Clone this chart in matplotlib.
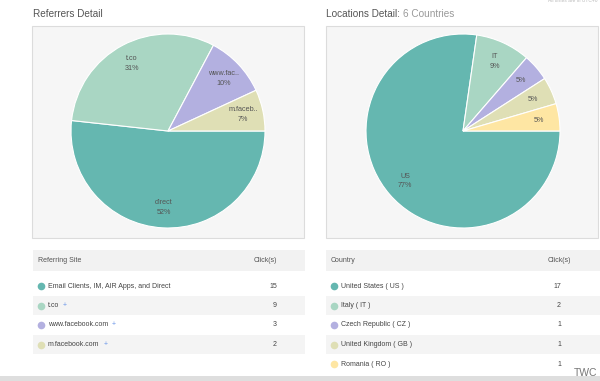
import matplotlib
matplotlib.use("Agg")
import matplotlib.pyplot as plt
import numpy as np
from matplotlib.patches import Rectangle

plt.rcParams['font.family'] = ['Liberation Sans', 'DejaVu Sans']

# referrers
ref_sites = ['Email Clients, IM, AIR Apps, and Direct', 't.co', 'www.facebook.com', 'm.facebook.com']
ref_labels = ['direct', 't.co', 'www.fac..', 'm.faceb..']
ref_clicks = [15, 9, 3, 2]
ref_plus = [False, True, True, True]

# locations (6 countries in total, 5 rows visible)
n_countries = 6
countries = ['United States ( US )', 'Italy ( IT )', 'Czech Republic ( CZ )',
             'United Kingdom ( GB )', 'Romania ( RO )']
country_labels = ['US', 'IT', '', '', '']
country_clicks = [17, 2, 1, 1, 1]

colors = ['#65b7b0', '#a9d6c3', '#b3b0e0', '#dfdfb5', '#fee6a3']

W, H = 600, 381
fig = plt.figure(figsize=(6, 3.81), dpi=100)
bg = fig.add_axes([0, 0, 1, 1])
bg.set_xlim(0, W)
bg.set_ylim(H, 0)
bg.axis('off')

# titles
bg.text(33, 14, 'Referrers Detail', fontsize=7.2, color='#555555', va='center')
t = bg.text(326, 14, 'Locations Detail: ', fontsize=7.2, color='#555555', va='center')
bg.annotate('%d Countries' % n_countries, xycoords=t, xy=(1, 0.5), va='center',
            fontsize=7.2, color='#999999')
bg.text(598, 1, 'All times are in UTC+0', fontsize=3.5, color='#bbbbbb',
        ha='right', va='center')

# chart panels
for x0 in (32, 326):
    bg.add_patch(Rectangle((x0, 26), 272, 212, facecolor='#f6f6f6',
                           edgecolor='#dcdcdc', lw=0.8))


def draw_pie(cx, cy, r, values, labels):
    ax = fig.add_axes([(cx - r) / W, 1 - (cy + r) / H, 2 * r / W, 2 * r / H])
    wedges, _ = ax.pie(values, colors=colors[:len(values)], startangle=0,
                       counterclock=False,
                       wedgeprops=dict(edgecolor='white', linewidth=0.8))
    ax.set_xlim(-1, 1)
    ax.set_ylim(-1, 1)
    ax.axis('off')
    total = sum(values)
    for w, v, lab in zip(wedges, values, labels):
        ang = np.deg2rad((w.theta1 + w.theta2) / 2)
        pct = '%d%%' % round(v / total * 100 + 1e-9)
        txt = pct if lab == '' else lab + '\n' + pct
        ax.text(0.79 * np.cos(ang), 0.79 * np.sin(ang), txt, ha='center',
                va='center', fontsize=5.2, color='#555555', linespacing=1.5)


draw_pie(168, 131, 97, ref_clicks, ref_labels)
draw_pie(463, 131, 97, country_clicks, country_labels)


def draw_table(x0, x1, head, names, clicks, plus, val_x, head_x):
    bg.add_patch(Rectangle((x0, 250), x1 - x0, 21, facecolor='#f2f2f2', lw=0))
    bg.text(x0 + 5, 260, head, fontsize=5, color='#555555', va='center')
    bg.text(head_x, 261, 'Click(s)', fontsize=5, color='#555555', va='center',
            ha='right')
    for i, (n, c) in enumerate(zip(names, clicks)):
        top = 276 + i * 19.5
        if i % 2 == 1:
            bg.add_patch(Rectangle((x0, top), x1 - x0, 19.5, facecolor='#f4f4f4', lw=0))
        yc = top + 10
        bg.plot(x0 + 8, yc, 'o', ms=5.5, color=colors[i], mec='none')
        tx = bg.text(x0 + 15, yc, n, fontsize=5, color='#444444', va='center')
        if plus[i]:
            bg.annotate('  +', xycoords=tx, xy=(1, 0.5), va='center',
                        fontsize=5, color='#6a96e8')
        bg.text(val_x, yc, str(c), fontsize=5, color='#444444', va='center',
                ha='right')


draw_table(33, 305, 'Referring Site', ref_sites, ref_clicks, ref_plus, 277, 277)
draw_table(326, 600, 'Country', countries, country_clicks,
           [False] * len(countries), 561, 571)

# bottom strip
bg.add_patch(Rectangle((0, 376), W, 5, facecolor='#dedede', lw=0))
bg.text(597, 373, 'TWC', fontsize=7.5, color='#777777', ha='right', va='center')

fig.savefig('out.png', dpi=100, facecolor='white')
